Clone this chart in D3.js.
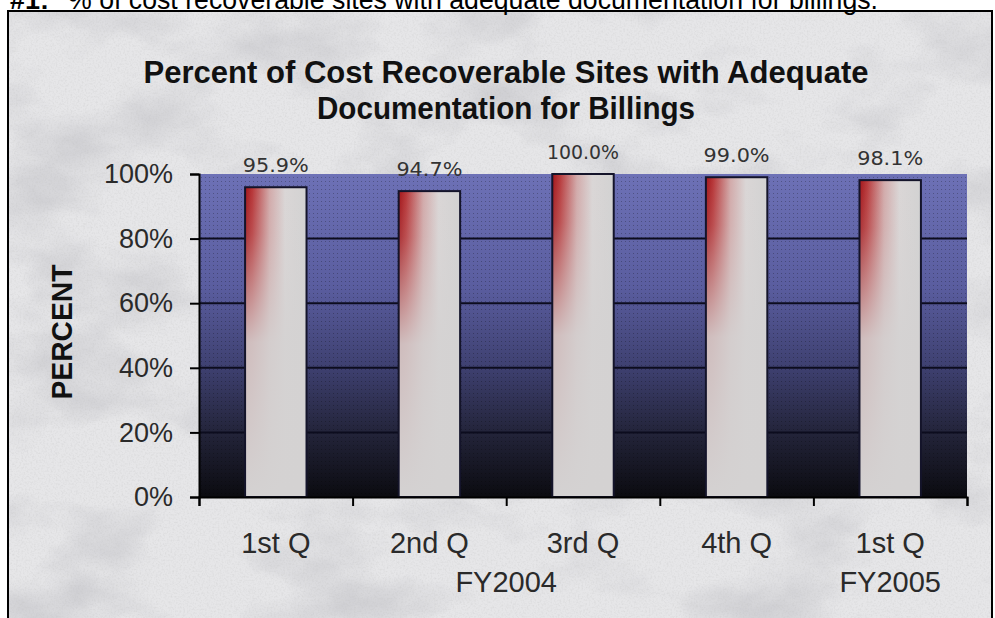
<!DOCTYPE html>
<html>
<head>
<meta charset="utf-8">
<script src="https://cdn.jsdelivr.net/npm/d3@7"></script>
<style>
  body { margin: 0; background: #fff; }
  svg { display: block; }
</style>
</head>
<body>
<div id="chart"></div>
<script>

// data
var quarters = ["1st Q", "2nd Q", "3rd Q", "4th Q", "1st Q"];
var fiscalYears = ["FY2004", "FY2004", "FY2004", "FY2004", "FY2005"];
var values = [95.9, 94.7, 100.0, 99.0, 98.1];
var yTicks = [0, 20, 40, 60, 80, 100];

var width = 995;
var height = 618;
var plot = {left: 199, right: 967, top: 174, bottom: 497};

var svg = d3.select("#chart")
  .append("svg")
  .attr("width", width)
  .attr("height", height);

var defs = svg.append("defs");

//marble background texture
var marble = defs.append("filter").attr("id", "marble")
  .attr("x", 0).attr("y", 0).attr("width", "100%").attr("height", "100%");
marble.append("feTurbulence")
  .attr("type", "fractalNoise").attr("baseFrequency", "0.007 0.012")
  .attr("numOctaves", 5).attr("seed", 7).attr("result", "noise");
marble.append("feColorMatrix").attr("in", "noise").attr("type", "matrix")
  .attr("values", "0 0 0 0 0.55  0 0 0 0 0.55  0 0 0 0 0.58  1.9 0 0 0 -0.88");

var grain = defs.append("filter").attr("id", "grain")
  .attr("x", 0).attr("y", 0).attr("width", "100%").attr("height", "100%");
grain.append("feTurbulence")
  .attr("type", "fractalNoise").attr("baseFrequency", "0.55")
  .attr("numOctaves", 2).attr("seed", 3).attr("result", "noise");
grain.append("feColorMatrix").attr("in", "noise").attr("type", "matrix")
  .attr("values", "0 0 0 0 0.5  0 0 0 0 0.5  0 0 0 0 0.5  1.6 0 0 0 -0.7");

//plot area gradient (blue on top -> black at the bottom)
var plotGrad = defs.append("linearGradient").attr("id", "plotGrad")
  .attr("x1", 0).attr("y1", 0).attr("x2", 0).attr("y2", 1);
[[0, "#6d71b6"], [0.35, "#5a5d9f"], [0.6, "#3e4070"], [0.8, "#23243a"], [1, "#0b0b10"]]
  .forEach(function(s) { plotGrad.append("stop").attr("offset", s[0]).attr("stop-color", s[1]); });

var dots = defs.append("pattern").attr("id", "dots")
  .attr("width", 4).attr("height", 4).attr("patternUnits", "userSpaceOnUse");
dots.append("rect").attr("x", 1).attr("y", 1).attr("width", 1).attr("height", 1)
  .attr("fill", "#000").attr("opacity", 0.25);

//bar fill: red on the left fading to grey
var barGrad = defs.append("linearGradient").attr("id", "barGrad")
  .attr("x1", 0).attr("y1", 0).attr("x2", 1).attr("y2", 0);
[[0, "#a3161a"], [0.12, "#b8383a"], [0.4, "#d2aaaa"], [0.65, "#dad6d6"], [1, "#d2d2d2"]]
  .forEach(function(s) { barGrad.append("stop").attr("offset", s[0]).attr("stop-color", s[1]); });

var barFade = defs.append("linearGradient").attr("id", "barFade")
  .attr("x1", 0).attr("y1", 0).attr("x2", 0).attr("y2", 1);
[[0, 0], [0.15, 0.15], [0.5, 0.88], [1, 1]]
  .forEach(function(s) {
    barFade.append("stop").attr("offset", s[0]).attr("stop-color", "#d4d2d2").attr("stop-opacity", s[1]);
  });

//background + frame
svg.append("rect").attr("x", 8).attr("y", 11).attr("width", 984).attr("height", height)
  .attr("fill", "#e6e6e8");
svg.append("rect").attr("x", 8).attr("y", 11).attr("width", 984).attr("height", height)
  .attr("filter", "url(#marble)");
svg.append("rect").attr("x", 8).attr("y", 11).attr("width", 984).attr("height", height)
  .attr("filter", "url(#grain)").attr("opacity", 0.35);
svg.append("path")
  .attr("d", "M8," + height + "V11H992V" + height)
  .attr("fill", "none").attr("stroke", "#000").attr("stroke-width", 2);

//caption above the frame (cut off at the top, as in the source page)
svg.append("text").attr("x", 10).attr("y", 9)
  .style("font", "bold 27px 'Liberation Sans', Arial, sans-serif")
  .text("#1:");
svg.append("text").attr("x", 68).attr("y", 9)
  .attr("textLength", 810).attr("lengthAdjust", "spacingAndGlyphs")
  .style("font", "27px 'Liberation Sans', Arial, sans-serif")
  .text("% of cost recoverable sites with adequate documentation for billings.");

//scales
var x = d3.scaleBand().domain(d3.range(values.length)).range([plot.left, plot.right]);
var xBar = d3.scaleBand().domain(d3.range(values.length)).range([plot.left, plot.right])
  .paddingInner(0.6).paddingOuter(0.3);
var xEdge = d3.scaleLinear().domain([0, values.length]).range([plot.left, plot.right]);
var y = d3.scaleLinear().domain([0, 100]).range([plot.bottom, plot.top]);

//plot area
svg.append("rect")
  .attr("x", plot.left).attr("y", y(100))
  .attr("width", plot.right - plot.left).attr("height", y(0) - y(100))
  .attr("fill", "url(#plotGrad)");
svg.append("rect")
  .attr("x", plot.left).attr("y", y(100))
  .attr("width", plot.right - plot.left).attr("height", y(0) - y(100))
  .attr("fill", "url(#dots)");

//gridlines
svg.append("g").selectAll("line")
  .data(yTicks.filter(function(d) { return d > 0 && d < 100; }))
  .enter().append("line")
  .attr("x1", plot.left).attr("x2", plot.right)
  .attr("y1", function(d) { return y(d); })
  .attr("y2", function(d) { return y(d); })
  .attr("stroke", "#0c0c1e").attr("stroke-width", 2);

//bars
var bars = svg.append("g").selectAll("g")
  .data(values)
  .enter().append("g");
bars.append("rect")
  .attr("x", function(d, i) { return xBar(i); })
  .attr("y", function(d) { return y(d); })
  .attr("width", xBar.bandwidth())
  .attr("height", function(d) { return y(0) - y(d); })
  .attr("fill", "url(#barGrad)");
bars.append("rect")
  .attr("x", function(d, i) { return xBar(i); })
  .attr("y", function(d) { return y(d); })
  .attr("width", xBar.bandwidth())
  .attr("height", function(d) { return y(0) - y(d); })
  .attr("fill", "url(#barFade)")
  .attr("stroke", "#14142a").attr("stroke-width", 2);

//value labels
bars.append("text")
  .attr("x", function(d, i) { return xBar(i) + xBar.bandwidth() / 2; })
  .attr("y", function(d) { return y(d) - 15; })
  .attr("text-anchor", "middle")
  .attr("textLength", function(d) { return d >= 100 ? 72 : 66; })
  .attr("lengthAdjust", "spacingAndGlyphs")
  .style("font", "19px 'DejaVu Sans', sans-serif")
  .style("fill", "#333")
  .text(function(d) { return d.toFixed(1) + "%"; });

//y axis
var yAxis = svg.append("g")
  .attr("transform", "translate(" + plot.left + ",0)")
  .call(d3.axisLeft(y).tickValues(yTicks).tickFormat(function(d) { return d + "%"; })
    .tickSize(9).tickPadding(17));
yAxis.selectAll("text")
  .style("font", "27px 'Liberation Sans', Arial, sans-serif")
  .style("fill", "#2a2a2a");

//x axis, ticks between the categories
var xAxis = svg.append("g")
  .attr("transform", "translate(0," + plot.bottom + ")")
  .call(d3.axisBottom(xEdge).tickValues(d3.range(values.length + 1)).tickFormat("")
    .tickSize(9).tickSizeOuter(9));

svg.selectAll(".domain, .tick line")
  .attr("stroke", "#000").attr("stroke-width", 2);

svg.append("g").selectAll("text")
  .data(quarters)
  .enter().append("text")
  .attr("x", function(d, i) { return x(i) + x.bandwidth() / 2; })
  .attr("y", 553)
  .attr("text-anchor", "middle")
  .style("font", "29px 'Liberation Sans', Arial, sans-serif")
  .style("fill", "#2a2a2a")
  .text(function(d) { return d; });

//fiscal year groups, centred under their quarters
var groups = d3.groups(d3.range(values.length), function(i) { return fiscalYears[i]; });
svg.append("g").selectAll("text")
  .data(groups)
  .enter().append("text")
  .attr("x", function(g) {
    var idx = g[1];
    return (x(idx[0]) + x(idx[idx.length - 1]) + x.bandwidth()) / 2;
  })
  .attr("y", 592)
  .attr("text-anchor", "middle")
  .style("font", "29px 'Liberation Sans', Arial, sans-serif")
  .style("fill", "#2a2a2a")
  .text(function(g) { return g[0]; });

//titles
var title = svg.append("g")
  .style("font", "bold 32px 'Liberation Sans', Arial, sans-serif")
  .style("fill", "#111");
title.append("text").attr("x", 506).attr("y", 83)
  .attr("text-anchor", "middle")
  .attr("textLength", 725).attr("lengthAdjust", "spacingAndGlyphs")
  .text("Percent of Cost Recoverable Sites with Adequate");
title.append("text").attr("x", 506).attr("y", 119)
  .attr("text-anchor", "middle")
  .attr("textLength", 378).attr("lengthAdjust", "spacingAndGlyphs")
  .text("Documentation for Billings");

svg.append("text")
  .attr("transform", "translate(72,332) rotate(-90)")
  .attr("text-anchor", "middle")
  .attr("textLength", 135).attr("lengthAdjust", "spacingAndGlyphs")
  .style("font", "bold 30px 'Liberation Sans', Arial, sans-serif")
  .style("fill", "#111")
  .text("PERCENT");

</script>
</body>
</html>
